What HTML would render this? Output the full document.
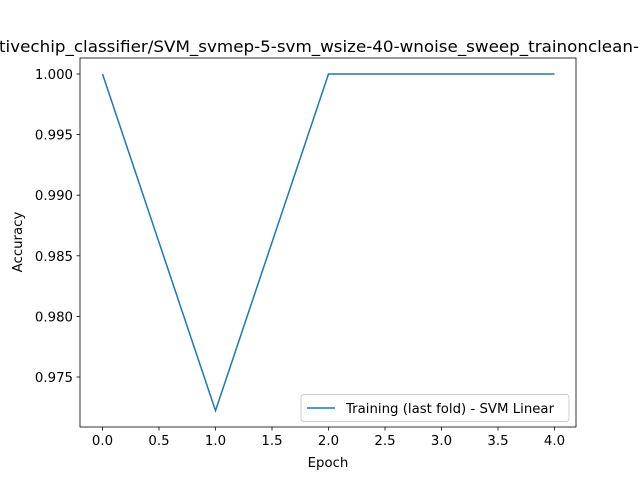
<!DOCTYPE html>
<html><head><meta charset="utf-8"><style>
body{margin:0;background:#fff}
svg{display:block;font-family:"DejaVu Sans","Liberation Sans",sans-serif}
</style></head><body>
<svg width="640" height="480" viewBox="0 0 640 480">
<rect width="640" height="480" fill="#fff"/>
<text x="319" y="52" font-size="16" text-anchor="middle" textLength="640" lengthAdjust="spacingAndGlyphs">tivechip_classifier/SVM_svmep-5-svm_wsize-40-wnoise_sweep_trainonclean-</text>
<g id="ticks"></g>
<rect x="80" y="58" width="496" height="369" fill="none" stroke="#000" stroke-width="0.8"/>
<polyline id="line" fill="none" stroke="#1f77b4" stroke-width="1.5"/>
<text x="328" y="467" font-size="13.3" text-anchor="middle">Epoch</text>
<text x="22" y="242" font-size="13.3" text-anchor="middle" transform="rotate(-90 22 242)">Accuracy</text>
<g>
<rect x="301" y="394.5" width="268" height="27" rx="3" fill="#fff" fill-opacity="0.8" stroke="#ccc"/>
<line x1="307" y1="408" x2="335" y2="408" stroke="#1f77b4" stroke-width="1.5"/>
<text x="346" y="413" font-size="13.3">Training (last fold) - SVM Linear</text>
</g>
</svg>
<script>
const epochs=[0,1,2,3,4];
const accuracy=[1.0,0.97222,1.0,1.0,1.0];
const xTicks=[0,0.5,1,1.5,2,2.5,3,3.5,4];
const xTickLabels=["0.0","0.5","1.0","1.5","2.0","2.5","3.0","3.5","4.0"];
const yTicks=[0.975,0.98,0.985,0.99,0.995,1.0];
const yTickLabels=["0.975","0.980","0.985","0.990","0.995","1.000"];
const xs=v=>102.5+v*113;
const ys=v=>74+(1-v)*12120;
const NS="http://www.w3.org/2000/svg";
const g=document.getElementById('ticks');
function mk(t,a){const e=document.createElementNS(NS,t);for(const k in a)e.setAttribute(k,a[k]);return e;}
xTicks.forEach((v,i)=>{
 const l=mk('line',{x1:xs(v),x2:xs(v),y1:427,y2:430.5,stroke:'#000','stroke-width':0.8});
 
 
 g.appendChild(l);
 const t=mk('text',{x:xs(v),y:445,'font-size':13.3,'text-anchor':'middle'});
 
 
 t.textContent=xTickLabels[i];g.appendChild(t);
});
yTicks.forEach((v,i)=>{
 const l=mk('line',{x1:76.5,x2:80,y1:ys(v),y2:ys(v),stroke:'#000','stroke-width':0.8});
 
 
 g.appendChild(l);
 const t=mk('text',{x:73,y:ys(v)+5,'font-size':13.3,'text-anchor':'end'});
 
 
 t.textContent=yTickLabels[i];g.appendChild(t);
});
document.getElementById('line').setAttribute('points',epochs.map((e,i)=>xs(e)+','+ys(accuracy[i])).join(' '));
</script>
</body></html>
